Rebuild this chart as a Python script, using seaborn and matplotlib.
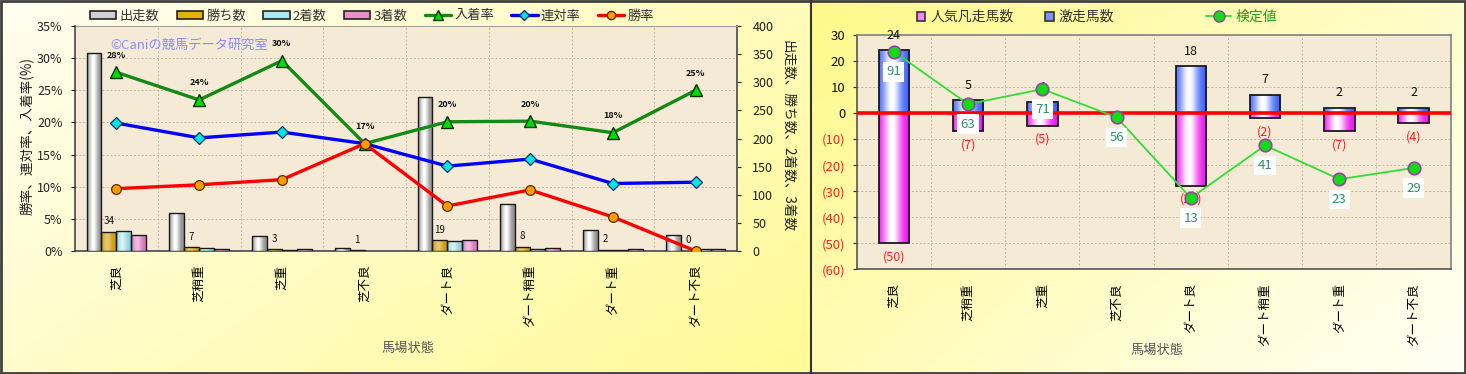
import numpy as np
import pandas as pd
import matplotlib
matplotlib.use("Agg")
import matplotlib.pyplot as plt
import matplotlib.colors as mcolors
import seaborn as sns
from matplotlib.patches import Rectangle
from matplotlib.lines import Line2D

# ---------------- data ----------------
conditions = ['芝良', '芝稍重', '芝重', '芝不良', 'ダート良', 'ダート稍重', 'ダート重', 'ダート不良']

starts = [352, 68, 27, 6, 273, 84, 38, 28]      # 出走数
wins = [34, 7, 3, 1, 19, 8, 2, 0]               # 勝ち数
seconds = [36, 5, 2, 0, 17, 4, 2, 3]            # 2着数
thirds = [28, 4, 3, 0, 19, 5, 3, 4]             # 3着数

place_rate = [27.8, 23.5, 29.6, 16.7, 20.1, 20.2, 18.4, 25.0]   # 入着率
rentai_rate = [19.9, 17.6, 18.5, 16.7, 13.2, 14.3, 10.5, 10.7]  # 連対率
win_rate = [9.7, 10.3, 11.1, 16.7, 7.0, 9.5, 5.3, 0.0]          # 勝率
place_rate_labels = ['28%', '24%', '30%', '17%', '20%', '20%', '18%', '25%']

gekisou = [24, 5, 4, 0, 18, 7, 2, 2]            # 激走馬数
bonsou = [-50, -7, -5, 0, -28, -2, -7, -4]      # 人気凡走馬数
kentei = [91, 63, 71, 56, 13, 41, 23, 29]       # 検定値

bar_series = ['出走数', '勝ち数', '2着数', '3着数']
right_series = ['人気凡走馬数', '激走馬数']

# ---------------- style ----------------
sns.set_style("white")
plt.rcParams['font.family'] = ['Noto Sans CJK JP', 'DejaVu Sans']
plt.rcParams['axes.unicode_minus'] = False

W, H = 1466, 374
fig = plt.figure(figsize=(W / 100, H / 100), dpi=100)


def fx(px):
    return px / W


def fy(py):
    return 1 - py / H


def diag_grad(c1, c2, n=80):
    a = np.array(mcolors.to_rgb(c1))
    b = np.array(mcolors.to_rgb(c2))
    yy, xx = np.mgrid[0:1:n * 1j, 0:1:n * 1j]
    t = np.clip(xx * 0.6 + yy * 0.4, 0, 1)
    return a[None, None, :] * (1 - t[..., None]) + b[None, None, :] * t[..., None]


# background panels
bg = fig.add_axes([0, 0, 1, 1], zorder=-5)
bg.set_xlim(0, W)
bg.set_ylim(H, 0)
bg.axis('off')
bg.imshow(diag_grad('#fffef0', '#fffa96'), extent=[0, 811, H, 0], aspect='auto',
          interpolation='bilinear')
bg.imshow(diag_grad('#fff98a', '#fffff6'), extent=[811, W, H, 0], aspect='auto',
          interpolation='bilinear')
bg.set_xlim(0, W)
bg.set_ylim(H, 0)
bg.plot([811, 811], [0, H], color='#333333', lw=1.5)
bg.add_patch(Rectangle((0.8, 0.8), W - 1.6, H - 1.6, fill=False, ec='#404040', lw=2))

PLOT_BG = '#f5ead6'
GRID_C = '#bdb5a5'


def add_gradient(ax, patch, edge_color, max_white, zorder=2.9):
    bb = patch.get_bbox()
    x0, x1 = bb.x0, bb.x1
    y0, y1 = bb.y0, bb.y1
    t = np.linspace(0, 1, 64)
    w = max_white * np.exp(-((t - 0.42) / 0.3) ** 2)
    base = np.array(mcolors.to_rgb(edge_color))
    rgb = base[None, :] * (1 - w[:, None]) + w[:, None]
    img = rgb[None, :, :]
    im = ax.imshow(img, extent=[x0, x1, min(y0, y1), max(y0, y1)], aspect='auto',
                   zorder=zorder, interpolation='bilinear')
    im.set_clip_path(patch)
    patch.set_facecolor('none')
    patch.set_zorder(zorder + 0.05)


# ---------------- left chart ----------------
ax_bar = fig.add_axes([fx(75), fy(251), (737 - 75) / W, (251 - 26) / H])
ax_bar.set_facecolor(PLOT_BG)

df_left = pd.DataFrame({
    '馬場状態': conditions * 4,
    'series': sum([[s] * len(conditions) for s in bar_series], []),
    'value': starts + wins + seconds + thirds,
})
bar_palette = {'出走数': '#d0d0d0', '勝ち数': '#e6b000', '2着数': '#a8e8f0', '3着数': '#e890c8'}
sns.barplot(data=df_left, x='馬場状態', y='value', hue='series', hue_order=bar_series,
            palette=bar_palette, width=0.72, ax=ax_bar, legend=False, errorbar=None,
            edgecolor='#1a1a1a', linewidth=1.0, saturation=1)

grad_left = [('#8a8a8a', 1.0), ('#d09a00', 0.45), ('#86d2dc', 0.7), ('#d870b8', 0.55)]
for cont, (ec, mw) in zip(ax_bar.containers, grad_left):
    for p in cont.patches:
        if p.get_height() == 0:
            p.set_visible(False)
            continue
        add_gradient(ax_bar, p, ec, mw)

ax_bar.bar_label(ax_bar.containers[1], labels=[str(v) for v in wins], padding=4,
                 fontsize=7, color='#111111', zorder=5)

ax_bar.set_xlim(-0.5, len(conditions) - 0.5)
ax_bar.set_ylim(0, 400)
ax_bar.set_xlabel('')
ax_bar.set_ylabel('')
ax_bar.set_xticks(range(len(conditions)))
ax_bar.set_xticklabels(conditions, rotation=90, fontsize=9, color='#000000')
ax_bar.tick_params(axis='x', length=0, pad=10)
for i in range(1, len(conditions)):
    ax_bar.axvline(i - 0.5, color=GRID_C, lw=0.7, ls=(0, (2, 2)), zorder=0.5)
pct_ticks = np.arange(0, 36, 5)
for p_ in pct_ticks[1:-1]:
    ax_bar.axhline(p_ / 35 * 400, color=GRID_C, lw=0.7, ls=(0, (2, 2)), zorder=0.5)
for s in ax_bar.spines.values():
    s.set_color('#555555')
    s.set_linewidth(1.3)
ax_bar.spines['top'].set_color('#a0a0a0')
ax_bar.spines['top'].set_linewidth(0.8)

ax_line = ax_bar.twinx()
# twinx moves the original ticks to the left: put the count axis back on the right
ax_bar.yaxis.tick_right()
ax_bar.set_yticks(np.arange(0, 401, 50))
ax_bar.tick_params(axis='y', labelsize=9, length=3, direction='out', colors='#222222', pad=8,
                   left=False, labelleft=False, right=True, labelright=True)

pos = np.arange(len(conditions))
sns.lineplot(x=pos, y=place_rate, ax=ax_line, color='#138a13', lw=2.4, marker='^',
             markersize=9, markerfacecolor='#00dd00', markeredgecolor='#0a300a',
             markeredgewidth=1.0)
sns.lineplot(x=pos, y=rentai_rate, ax=ax_line, color='#0000ff', lw=2.4, marker='D',
             markersize=6, markerfacecolor='#00e6e6', markeredgecolor='#10306a',
             markeredgewidth=0.9)
sns.lineplot(x=pos, y=win_rate, ax=ax_line, color='#ff0000', lw=2.4, marker='o',
             markersize=7, markerfacecolor='#ff9a00', markeredgecolor='#5a3000',
             markeredgewidth=0.9)
for i, (v, lbl) in enumerate(zip(place_rate, place_rate_labels)):
    ax_line.annotate(lbl, (i, v), xytext=(0, 9), textcoords='offset points', ha='center',
                     va='bottom', fontsize=6.5, fontweight='bold', color='#111111')
ax_line.set_ylim(0, 35)
ax_line.yaxis.tick_left()
ax_line.set_yticks(pct_ticks)
ax_line.set_yticklabels([f'{v}%' for v in pct_ticks])
ax_line.tick_params(axis='y', labelsize=9, length=3, direction='out', colors='#222222',
                    left=True, labelleft=True, right=False, labelright=False, pad=6)
ax_line.set_xlim(-0.5, len(conditions) - 0.5)
ax_line.set_ylabel('')
ax_line.set_xlabel('')
for s in ax_line.spines.values():
    s.set_visible(False)

fig.text(fx(110), fy(45), '©Caniの競馬データ研究室', color='#8a8aff', fontsize=9.5,
         ha='left', va='center')
fig.text(fx(27), fy(136), '勝率、連対率、入着率(%)', rotation=90, ha='center', va='center',
         fontsize=9.8, color='#222222')
fig.text(fx(788), fy(136), '出走数、勝ち数、2着数、3着数', rotation=270, ha='center',
         va='center', fontsize=9.8, color='#222222')
fig.text(fx(408), fy(348), '馬場状態', ha='center', va='center', fontsize=9.5,
         color='#555555')

left_handles = [Rectangle((0, 0), 1, 1, fc=bar_palette[s], ec='#222222', lw=1.2)
                for s in bar_series]
left_handles += [
    Line2D([], [], color='#138a13', lw=2.4, marker='^', markersize=7,
           markerfacecolor='#00dd00', markeredgecolor='#0a300a'),
    Line2D([], [], color='#0000ff', lw=2.4, marker='D', markersize=5,
           markerfacecolor='#00e6e6', markeredgecolor='#10306a'),
    Line2D([], [], color='#ff0000', lw=2.4, marker='o', markersize=6,
           markerfacecolor='#ff9a00', markeredgecolor='#5a3000'),
]
left_labels = bar_series + ['入着率', '連対率', '勝率']
leg1 = fig.legend(left_handles, left_labels, loc='center left', bbox_to_anchor=(fx(90), fy(16)),
                  ncol=7, frameon=False, fontsize=9.5, handlelength=2.0, handleheight=0.55,
                  handletextpad=0.25, columnspacing=1.3, borderaxespad=0, borderpad=0)
for t in leg1.get_texts():
    t.set_color('#333333')

# ---------------- right chart ----------------
ax2 = fig.add_axes([fx(856.7), fy(269.3), (1450.7 - 856.7) / W, (269.3 - 34.7) / H])
ax2.set_facecolor(PLOT_BG)
df_right = pd.DataFrame({
    '馬場状態': conditions * 2,
    'series': ['人気凡走馬数'] * len(conditions) + ['激走馬数'] * len(conditions),
    'value': bonsou + gekisou,
})
right_palette = {'人気凡走馬数': '#ff60ff', '激走馬数': '#5070ff'}
sns.barplot(data=df_right, x='馬場状態', y='value', hue='series', hue_order=right_series,
            palette=right_palette, dodge=False, width=0.41, ax=ax2, legend=False,
            errorbar=None, edgecolor='#1a1a1a', linewidth=1.3, saturation=1)
grad_right = [('#ee10ee', 1.0), ('#3a5cff', 1.0)]
for cont, (ec, mw) in zip(ax2.containers, grad_right):
    for p in cont.patches:
        if p.get_height() == 0:
            p.set_visible(False)
            continue
        add_gradient(ax2, p, ec, mw)

ax2.bar_label(ax2.containers[1], labels=[str(v) if v else '' for v in gekisou], padding=6,
              fontsize=9, color='#111111', zorder=5)
ax2.bar_label(ax2.containers[0], labels=[f'({-v})' if v else '' for v in bonsou], padding=5,
              fontsize=9, color='#ff2020', zorder=5)
ax2.axhline(0, color='#ff0000', lw=2.6, zorder=4)

ax2.set_xlim(-0.5, len(conditions) - 0.5)
ax2.set_ylim(-60, 30)
r_ticks = np.arange(-60, 31, 10)
ax2.set_yticks(r_ticks)
ax2.set_yticklabels([str(v) if v >= 0 else f'({-v})' for v in r_ticks])
for lbl, v in zip(ax2.get_yticklabels(), r_ticks):
    lbl.set_color('#ff2020' if v < 0 else '#111111')
ax2.tick_params(axis='y', labelsize=9.5, length=3, direction='out', left=True, pad=5)
ax2.set_xticks(range(len(conditions)))
ax2.set_xticklabels(conditions, rotation=90, fontsize=9, color='#000000')
ax2.tick_params(axis='x', length=0, pad=10)
ax2.set_xlabel('')
ax2.set_ylabel('')
for i in range(1, len(conditions)):
    ax2.axvline(i - 0.5, color=GRID_C, lw=0.7, ls=(0, (2, 2)), zorder=0.5)
for v in r_ticks[1:-1]:
    ax2.axhline(v, color=GRID_C, lw=0.7, ls=(0, (2, 2)), zorder=0.5)
for s in ax2.spines.values():
    s.set_color('#808080')
    s.set_linewidth(1.2)
ax2.spines['left'].set_color('#555555')
ax2.spines['bottom'].set_color('#555555')

ax2b = ax2.twinx()
ax2.yaxis.tick_left()
ax2b.set_yticks([])
sns.lineplot(x=pos, y=kentei, ax=ax2b, color='#33dd33', lw=1.3, marker='o', markersize=9,
             markerfacecolor='#11dd11', markeredgecolor='#9a40a8', markeredgewidth=1.2)
for i, v in enumerate(kentei):
    ax2b.annotate(str(v), (i, v), xytext=(0, -14.5), textcoords='offset points', ha='center',
                  va='center', fontsize=9.5, color='#2f8f70',
                  bbox=dict(boxstyle='square,pad=0.25', fc='white', ec='none'))
ax2b.set_ylim(-25, 100)
ax2b.set_xlim(-0.5, len(conditions) - 0.5)
ax2b.set_yticks([])
ax2b.set_ylabel('')
for s in ax2b.spines.values():
    s.set_visible(False)

fig.text(fx(1157), fy(350), '馬場状態', ha='center', va='center', fontsize=9.5,
         color='#555555')

r_handles = [Rectangle((0, 0), 1, 1, fc='#ff80ff', ec='#333333', lw=1.2),
             Rectangle((0, 0), 1, 1, fc='#8090ff', ec='#333333', lw=1.2)]
leg2 = fig.legend(r_handles, right_series, loc='center left', bbox_to_anchor=(fx(917), fy(17)),
                  ncol=2, frameon=False, fontsize=10, handlelength=0.6, handleheight=0.6,
                  handletextpad=0.35, columnspacing=2.3, borderaxespad=0, borderpad=0)
for t in leg2.get_texts():
    t.set_color('#333333')
leg3 = fig.legend([Line2D([], [], color='#33dd33', lw=1.3, marker='o', markersize=8,
                          markerfacecolor='#11dd11', markeredgecolor='#9a40a8')],
                  ['検定値'], loc='center left', bbox_to_anchor=(fx(1206), fy(17)),
                  frameon=False, fontsize=10, handlelength=1.8, handletextpad=0.3,
                  borderaxespad=0, borderpad=0)
for t in leg3.get_texts():
    t.set_color('#22a022')

fig.savefig('out.png', dpi=100)
